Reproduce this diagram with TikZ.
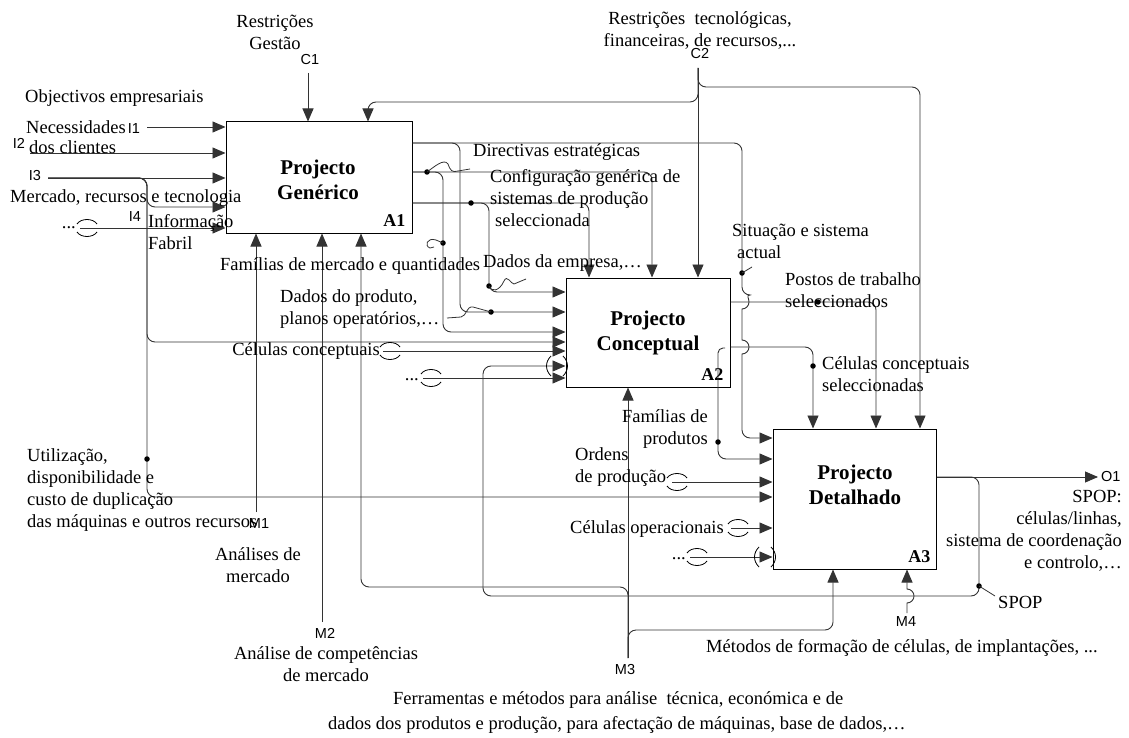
\documentclass[tikz,border=0pt]{standalone}
\usepackage{fontspec}
\setmainfont{Liberation Serif}
\setsansfont{Liberation Sans}
\usetikzlibrary{arrows.meta,calc}

\begin{document}
\begin{tikzpicture}[
  x=1pt, y=-1pt,
  font=\fontsize{18.5}{22}\selectfont,
  >={Triangle[length=13pt,width=11pt]},
  box/.style={draw, line width=1pt, inner sep=0pt},
  flow/.style={draw=black!80, line width=.9pt, rounded corners=8pt},
  arr/.style={flow, ->},
  lbl/.style={inner sep=0pt, align=left},
  code/.style={inner sep=0pt, font=\sffamily\fontsize{14.5}{16}\selectfont},
  title/.style={inner sep=0pt, align=center, font=\bfseries\fontsize{21}{25}\selectfont},
  num/.style={inner sep=0pt, font=\bfseries\fontsize{18}{20}\selectfont},
  dot/.style={circle, fill=black, inner sep=0pt, minimum size=5.5pt},
  lead/.style={draw=black!80, line width=.8pt},
  tunnel/.pic={\draw[line width=.8pt] (-10,-4) .. controls (-6,-10) and (6,-10) .. (10,-4)
    (-10,4) .. controls (-6,10) and (6,10) .. (10,4);},
  tiptunnel/.pic={\draw[line width=.8pt] (-6,-10) .. controls (-12,-4) and (-12,4) .. (-6,10)
    (6,-10) .. controls (12,-4) and (12,4) .. (6,10);}
]
\fill[white] (0,0) rectangle (1129,738);
\useasboundingbox (0,0) rectangle (1129,738);

% activity boxes
\node[box, minimum width=186pt, minimum height=111pt] (A1) at (319,177.5) {};
\node[box, minimum width=164pt, minimum height=109pt] (A2) at (648,332.5) {};
\node[box, minimum width=163pt, minimum height=140pt] (A3) at (854.5,499) {};
\node[title] at (318,180) {Projecto\\Genérico};
\node[title] at (648,333) {Projecto\\Conceptual};
\node[title] at (855,485) {Projecto\\Detalhado};
\node[num, anchor=south east] at ($(A1.south east)+(-7,-7)$) {A1};
\node[num, anchor=south east] at ($(A2.south east)+(-7,-7)$) {A2};
\node[num, anchor=south east] at ($(A3.south east)+(-6,-7)$) {A3};

% free ends
\coordinate (c1) at (308,73);
\coordinate (c2) at (698,68);
\coordinate (i1) at (147,127);
\coordinate (i2) at (30,153);
\coordinate (i3) at (48,178);
\coordinate (i4) at (80,228);
\coordinate (m1) at (256,512);
\coordinate (m2) at (322,622);
\coordinate (m3) at (628,658);
\coordinate (m4) at (907,613);
\coordinate (o1) at (1098,477);
\coordinate (t1) at (383,351);
\coordinate (t2) at (423,378);
\coordinate (t3) at (672,482);
\coordinate (t4) at (731,528);
\coordinate (t5) at (690,557);

% controls
\draw[arr] (c1) -- (A1.north -| c1);
\draw[arr] (c2) -- (A2.north -| c2);
\draw[arr] (c2) -- (698,102) -- (368,102) -- (A1.north -| 368,0);
\draw[arr] (c2) -- (698,87) -- (920,87) -- (A3.north -| 920,0);

% inputs
\draw[arr] (i1) -- (A1.west |- i1);
\draw[arr] (i2) -- (A1.west |- i2);
\draw[arr] (i3) -- (A1.west |- i3);
\draw[arr] (i3) -- (147,178) -- (147,207) -- (A1.west |- 0,207);
\draw[arr] (i3) -- (147,178) -- (147,342) -- (A2.west |- 0,342);
\draw[arr] (i3) -- (147,178) -- (147,497) -- (A3.west |- 0,497);
\draw[arr] (i4) -- (A1.west |- i4);
\draw[arr] (t1) -- (A2.west |- t1);
\draw[arr] (t2) -- (A2.west |- t2);
\draw[arr] (t3) -- (A3.west |- t3);
\draw[arr] (t4) -- (A3.west |- t4);
\draw[arr] (t5) -- (A3.west |- t5);

% mechanisms
\draw[arr] (m1) -- (A1.south -| m1);
\draw[arr] (m2) -- (A1.south -| m2);
\draw[arr] (m3) -- (A2.south -| m3);
\draw[arr] (m3) -- (628,587) -- (361,587) -- (A1.south -| 361,0);
\draw[arr] (m3) -- (628,630) -- (833,630) -- (A3.south -| 833,0);
\draw[arr, sharp corners] (m4) -- (907,603) arc[start angle=90, end angle=-90, radius=7]
  -- (A3.south -| m4);

% outputs of A1
\draw[arr] (A1.east |- 0,143) -- (742,143) -- (742,295) [sharp corners]
  arc[start angle=-90, end angle=90, radius=7] -- (742,340)
  arc[start angle=-90, end angle=90, radius=7] [rounded corners=8pt] -- (742,438)
  -- (A3.west |- 0,438);
\draw[arr] (A1.east |- 0,143) -- (460,143) -- (460,312) -- (A2.west |- 0,312);
\draw[arr] (A1.east |- 0,172) -- (652,172) -- (A2.north -| 652,0);
\draw[arr] (A1.east |- 0,172) -- (443,172) -- (443,332) -- (A2.west |- 0,332);
\draw[arr] (A1.east |- 0,203) -- (589,203) -- (A2.north -| 589,0);
\draw[arr] (A1.east |- 0,203) -- (489,203) -- (489,292) -- (A2.west |- 0,292);

% outputs of A2
\draw[arr] (A2.east |- 0,302) -- (876,302) -- (A3.north -| 876,0);
\draw[arr] (A2.east |- 0,347) -- (813,347) -- (A3.north -| 813,0);
\draw[arr, rounded corners=5pt] (725,348) -- (718,348) [rounded corners=8pt] -- (718,459)
  -- (A3.west |- 0,459);

% outputs of A3
\draw[arr] (A3.east |- 0,477) -- (o1);
\draw[arr] (A3.east |- 0,477) -- (979,477) -- (979,596) -- (483,596) -- (483,366)
  -- (A2.west |- 0,366);

% tunnels
\pic at (87,228) {tunnel};
\pic at (390,351) {tunnel};
\pic at (431,378) {tunnel};
\pic at (677,482) {tunnel};
\pic at (738,528) {tunnel};
\pic at (697,557) {tunnel};
\pic at (557,366) {tiptunnel};
\pic at (765,557) {tiptunnel};

% label dots and squiggles
\foreach \x/\y in {427/172, 443/243, 471/203, 489/286, 491/312, 147/459,
  742/273, 818/302, 813/366, 718/442, 979/586}
  \node[dot] at (\x,\y) {};
\draw[lead] (427,172) .. controls (434,167) and (444,158) .. (448,164)
  .. controls (450,170) and (452,173) .. (458,171) -- (470,169);
\draw[lead] (443,243) -- (436,240) .. controls (427,237) and (424,246) .. (430,248) -- (434,247);
\draw[lead] (489,286) .. controls (491,292) and (499,292) .. (504,281)
  .. controls (507,274) and (511,284) .. (514,284) -- (526,279);
\draw[lead] (491,312) -- (473,307) .. controls (466,306) and (467,316) .. (461,317) -- (447,318);
\draw[lead] (742,273) -- (752,267);
\draw[lead] (979,586) -- (995,596);

% arrow codes
\node[code] (C1) at (310,60) {C1};
\node[code] (C2) at (700,54) {C2};
\node[code] (I1) at (134,129) {I1};
\node[code] (I2) at (19,143) {I2};
\node[code] (I3) at (35,176) {I3};
\node[code] (I4) at (135,217) {I4};
\node[code] (M1) at (259,524) {M1};
\node[code] (M2) at (325,633) {M2};
\node[code] (M3) at (625,670) {M3};
\node[code] (M4) at (906,622) {M4};
\node[code, anchor=west] (O1) at (1101,477) {O1};

% texts
\node[lbl, align=center] at (275,32) {Restrições\\Gestão};
\node[lbl, align=center] at (700,30) {Restrições\ \ tecnológicas,\\financeiras, de recursos,...};
\node[lbl, anchor=west] at (25,98) {Objectivos empresariais};
\node[lbl, anchor=west] at (26,127) {Necessidades};
\node[lbl, anchor=west] at (29,147) {dos clientes};
\node[lbl, anchor=west] at (10,198) {Mercado, recursos e tecnologia};
\node[lbl, anchor=base east] at (76,229) {...};
\node[lbl, anchor=west] at (148,232) {Informação\\Fabril};
\node[lbl, anchor=west] at (220,266) {Famílias de mercado e quantidades};
\node[lbl, anchor=west] at (280,309) {Dados do produto,\\planos operatórios,…};
\node[lbl, anchor=west] at (483,263) {Dados da empresa,…};
\node[lbl, anchor=west] at (473,152) {Directivas estratégicas};
\node[lbl, anchor=west] at (490,198) {Configuração genérica de\\sistemas de produção\\\hspace{5pt}seleccionada};
\node[lbl, anchor=west] at (732,241) {Situação e sistema\\\hspace{5pt}actual};
\node[lbl, anchor=west] at (785,290) {Postos de trabalho\\seleccionados};
\node[lbl, anchor=west] at (822,374) {Células conceptuais\\seleccionadas};
\node[lbl, anchor=east] at (380,351) {Células conceptuais};
\node[lbl, anchor=base east] at (419,380) {...};
\node[lbl, anchor=east, align=right] at (708,429) {Famílias de\\produtos};
\node[lbl, anchor=west] at (575,467) {Ordens\\de produção};
\node[lbl, anchor=west] at (570,529) {Células operacionais};
\node[lbl, anchor=base east] at (686,559) {...};
\node[lbl, anchor=west] at (27,490) {Utilização,\\disponibilidade e\\custo de duplicação\\das máquinas e outros recursos};
\node[lbl, align=center] at (258,565) {Análises de\\mercado};
\node[lbl, align=center] at (326,664) {Análise de competências\\de mercado};
\node[lbl, anchor=west] at (393,700) {Ferramentas e métodos para análise\ \ técnica, económica e de};
\node[lbl, anchor=west] at (328,725) {dados dos produtos e produção, para afectação de máquinas, base de dados,…};
\node[lbl, anchor=west] at (706,648) {Métodos de formação de células, de implantações, ...};
\node[lbl, anchor=east, align=right] at (1122,531) {SPOP:\\células/linhas,\\sistema de coordenação\\e controlo,…};
\node[lbl, anchor=west] at (998,602) {SPOP};
\end{tikzpicture}
\end{document}
